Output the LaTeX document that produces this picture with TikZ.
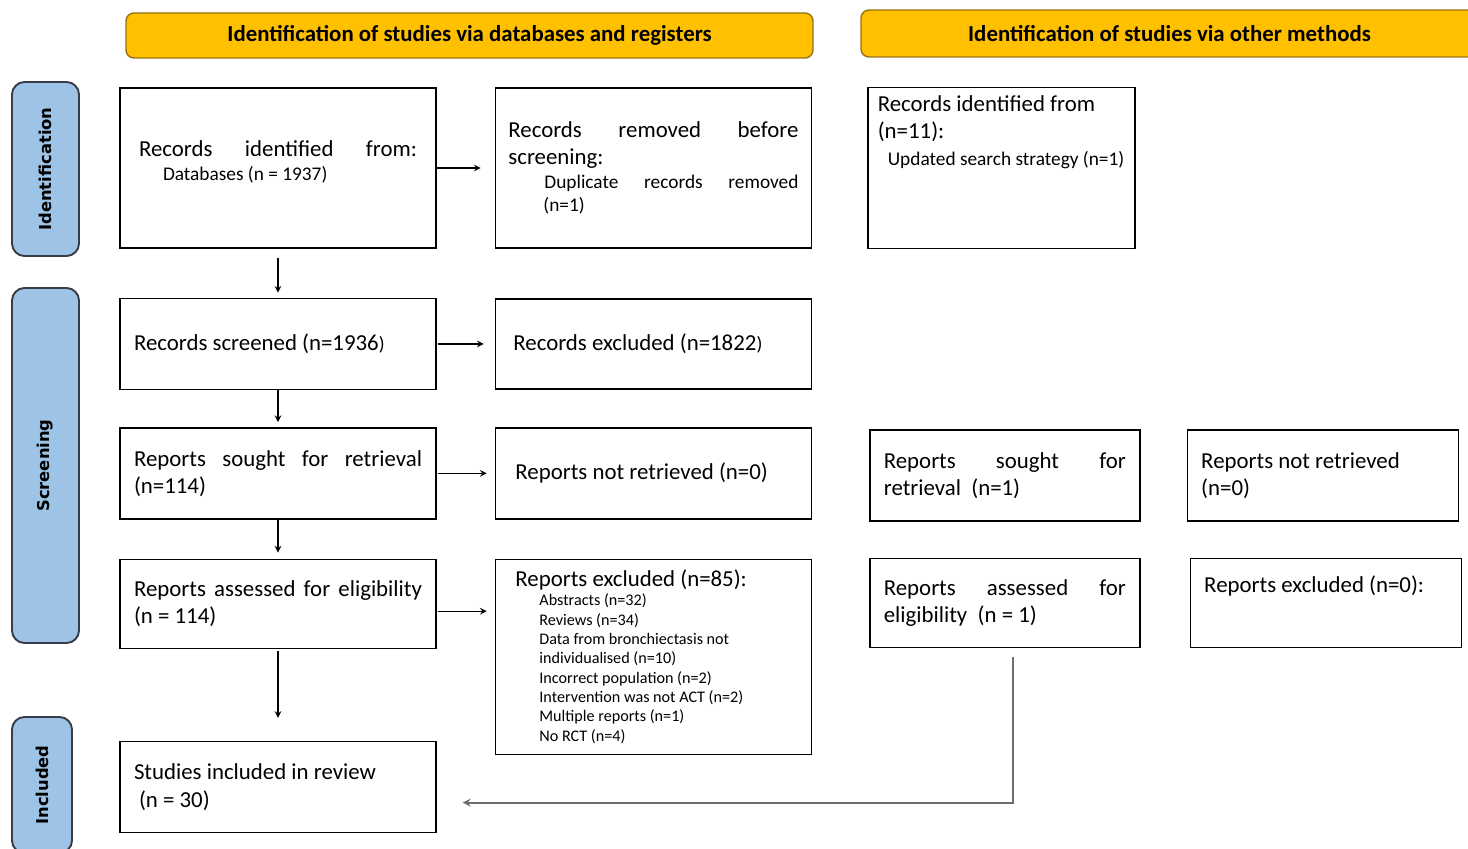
\documentclass[tikz,border=0pt]{standalone}
\usepackage{fontspec}
\setmainfont{Carlito}
\newfontfamily\labelfont{DejaVu Sans}
\usetikzlibrary{arrows, positioning}

\definecolor{headfill}{RGB}{255,192,0}
\definecolor{headline}{RGB}{150,115,20}
\definecolor{sidefill}{RGB}{157,195,230}
\definecolor{sideline}{RGB}{55,60,70}
\definecolor{joinline}{RGB}{110,110,110}

\newcommand{\mainsize}{\fontsize{13}{15.5}\selectfont}
\newcommand{\smallsize}{\fontsize{11}{13.5}\selectfont}
\newcommand{\listsize}{\fontsize{9.2}{11}\selectfont}
\newcommand{\spread}[1]{\makebox[\hsize][s]{#1}}

\begin{document}
\begin{tikzpicture}[
    box/.style={rectangle, draw, line width=0.8pt, inner xsep=0.28cm, inner ysep=0.1cm, align=left, font=\mainsize,
        execute at begin node={\spaceskip=0pt\xspaceskip=0pt}},
    header/.style={rectangle, draw=headline, line width=0.8pt, fill=headfill, rounded corners=0.16cm, font=\mainsize\bfseries},
    side/.style={rectangle, draw=sideline, line width=1.1pt, fill=sidefill, rounded corners=0.25cm, font=\labelfont\bfseries\fontsize{9.3}{11}\selectfont, rotate=90},
    arrow/.style={->, >=stealth, line width=0.7pt}
]
    \useasboundingbox (0,0) rectangle (29.36,-16.98);
    \clip (0,0) rectangle (29.36,-16.98);

    % Headers
    \node[header, minimum width=13.74cm, minimum height=0.9cm] (dbhead) at (9.39,-0.71) {Identification of studies via databases and registers};
    \node[header, minimum width=12.34cm, minimum height=0.94cm] (othhead) at (23.39,-0.67) {Identification of studies via other methods};

    % Phase labels
    \node[side, minimum width=3.48cm, minimum height=1.34cm] (identlbl) at (0.91,-3.38) {Identification};
    \node[side, minimum width=7.1cm, minimum height=1.34cm] (screenlbl) at (0.91,-9.31) {Screening};
    \node[side, minimum width=2.72cm, minimum height=1.2cm] (incllbl) at (0.84,-15.7) {Included};

    % Identification
    \node[box, inner xsep=0.38cm, text width=5.56cm, text depth=0.76cm, minimum height=3.2cm] (ident) at (5.56,-3.36)
        {\spread{Records identified from:}\\[-2pt] {\smallsize\hspace*{0.48cm}Databases (n = 1937)}};
    \node[box, inner xsep=0.26cm, text width=5.8cm, minimum height=3.2cm, right=1.16cm of ident] (removed)
        {\spread{Records removed before}\\ screening:\\
         {\smallsize\hspace*{0.72cm}\makebox[\dimexpr\hsize-0.72cm\relax][s]{Duplicate records removed}\\[-2pt] \hspace*{0.7cm}(n=1)}};
    \node[box, inner xsep=0.2cm, text width=4.94cm, text height=0.38cm, text depth=2.64cm, right=1.1cm of removed] (othrec)
        {Records identified from\\ (n=11):\\ {\smallsize\hspace*{0.2cm}\mbox{Updated search strategy (n=1)}}};

    % Screening
    \node[box, text width=5.76cm, minimum height=1.82cm, below=0.98cm of ident] (screened) {Records screened (n=1936{\smallsize)}};
    \node[box, inner xsep=0.36cm, text width=5.6cm, minimum height=1.8cm, right=1.16cm of screened] (excluded) {Records excluded (n=1822{\smallsize)}};
    \node[box, text width=5.76cm, minimum height=1.82cm, below=0.74cm of screened] (sought) {\spread{Reports sought for retrieval}\\ (n=114)};
    \node[box, inner xsep=0.4cm, text width=5.52cm, minimum height=1.82cm, right=1.16cm of sought] (notret) {Reports not retrieved (n=0)};
    \node[box, text width=5.76cm, minimum height=1.78cm, below=0.78cm of sought] (assessed) {\spread{Reports assessed for eligibility}\\ (n = 114)};
    \node[box, inner xsep=0.4cm, text width=5.52cm, minimum height=3.9cm, right=1.16cm of assessed.north east, anchor=north west] (reasons)
        {Reports excluded (n=85):\par
         {\listsize\leftskip=0.48cm
          Abstracts (n=32)\\ Reviews (n=34)\\ Data from bronchiectasis not\\ individualised (n=10)\\
          Incorrect population (n=2)\\ Intervention was not ACT (n=2)\\ Multiple reports (n=1)\\ No RCT (n=4)\par}};

    % Other methods
    \node[box, text width=4.84cm, minimum height=1.82cm, right=1.14cm of notret, yshift=-0.04cm] (othsought) {\spread{Reports sought for}\\ retrieval~~(n=1)};
    \node[box, text width=4.86cm, minimum height=1.82cm, right=0.92cm of othsought] (othnotret) {Reports not retrieved\\ (n=0)};
    \node[box, text width=4.84cm, minimum height=1.78cm, below=0.72cm of othsought] (othassessed) {\spread{Reports assessed for}\\ eligibility~~(n = 1)};
    \node[box, text width=4.86cm, text height=0.58cm, text depth=1.0cm, right=0.98cm of othassessed] (othexcluded) {Reports excluded (n=0):};

    % Included
    \node[box, text width=5.76cm, minimum height=1.82cm, below=1.84cm of assessed] (studies) {Studies included in review\\ \hspace*{0.1cm}(n = 30)};

    % Connect components
    \draw[arrow, shorten >=0.28cm] (ident) -- (removed);
    \draw[arrow, shorten <=0.18cm, shorten >=0.1cm] (ident) -- (screened);
    \draw[arrow, shorten <=0.02cm, shorten >=0.22cm] (screened) -- (excluded);
    \draw[arrow, shorten >=0.1cm] (screened) -- (sought);
    \draw[arrow, shorten <=0.02cm, shorten >=0.16cm] (sought) -- (notret);
    \draw[arrow, shorten >=0.12cm] (sought) -- (assessed);
    \draw[arrow, shorten <=0.02cm, shorten >=0.16cm] ([yshift=-0.15cm]assessed.east) -- ([yshift=-0.15cm]assessed.east -| reasons.west);
    \draw[arrow, shorten <=0.04cm, shorten >=0.46cm] (assessed) -- (studies);
    \draw[arrow, draw=joinline, line width=1pt] ([xshift=0.16cm, yshift=-0.18cm]othassessed.south) |- ([xshift=0.52cm, yshift=-0.31cm]studies.east);

\end{tikzpicture}
\end{document}
